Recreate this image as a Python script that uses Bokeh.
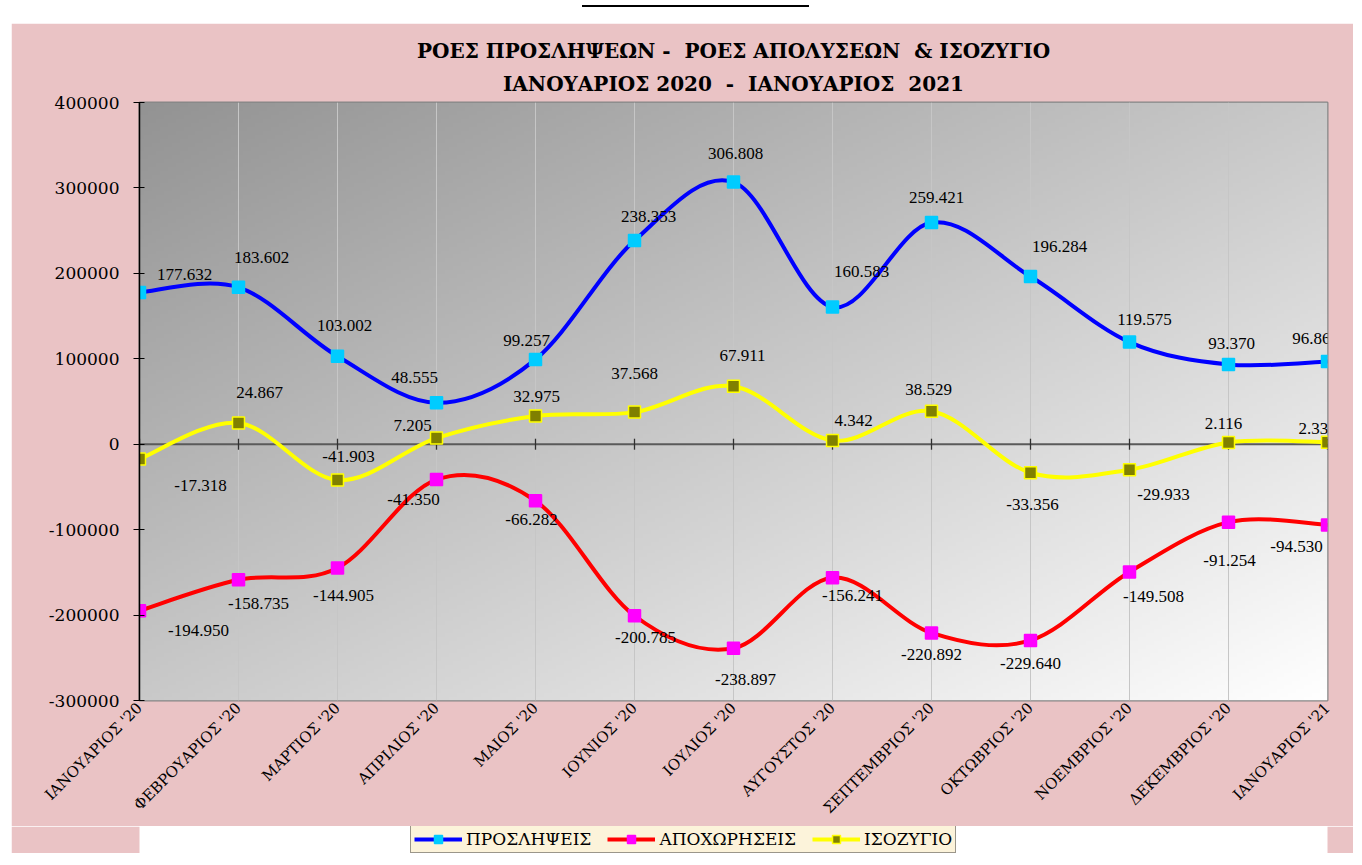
import numpy as np
from bokeh.plotting import figure
from bokeh.models import (Range1d, FixedTicker, ColumnDataSource, LabelSet, Legend,
                          LegendItem, Span, Title, Div, Spacer)
from bokeh.layouts import column, row
from bokeh.embed import file_html
from bokeh.resources import INLINE

# ---------------- data ----------------
months = ["ΙΑΝΟΥΑΡΙΟΣ '20", "ΦΕΒΡΟΥΑΡΙΟΣ '20", "ΜΑΡΤΙΟΣ '20", "ΑΠΡΙΛΙΟΣ '20",
          "ΜΑΙΟΣ '20", "ΙΟΥΝΙΟΣ '20", "ΙΟΥΛΙΟΣ '20", "ΑΥΓΟΥΣΤΟΣ '20",
          "ΣΕΠΤΕΜΒΡΙΟΣ '20", "ΟΚΤΩΒΡΙΟΣ '20", "ΝΟΕΜΒΡΙΟΣ '20", "ΔΕΚΕΜΒΡΙΟΣ '20",
          "ΙΑΝΟΥΑΡΙΟΣ '21"]
hires = [177632, 183602, 103002, 48555, 99257, 238353, 306808, 160583,
         259421, 196284, 119575, 93370, 96868]
exits = [-194950, -158735, -144905, -41350, -66282, -200785, -238897, -156241,
         -220892, -229640, -149508, -91254, -94530]
balance = [-17318, 24867, -41903, 7205, 32975, 37568, 67911, 4342,
           38529, -33356, -29933, 2116, 2338]
y_ticks = [-300000, -200000, -100000, 0, 100000, 200000, 300000, 400000]
series_names = ["ΠΡΟΣΛΗΨΕΙΣ", "ΑΠΟΧΩΡΗΣΕΙΣ", "ΙΣΟΖΥΓΙΟ"]
title_1 = "ΡΟΕΣ ΠΡΟΣΛΗΨΕΩΝ -\u00a0 ΡΟΕΣ ΑΠΟΛΥΣΕΩΝ\u00a0 & ΙΣΟΖΥΓΙΟ"
title_2 = "ΙΑΝΟΥΑΡΙΟΣ 2020\u00a0 -\u00a0 ΙΑΝΟΥΑΡΙΟΣ\u00a0 2021"

# label nudges in screen px (right / down), as the labels sit in the original
hires_dx = [45, 23, 7, -22, -9, 14, 2, 29, 5, 29, 15, 3, -12]
hires_dy = [-18, -30, -31, -25, -19, -24, -29, -36, -25, -30, -23, -21, -23]
exits_dx = [59, 20, 6, -23, -4, 11, 12, 20, 0, 0, 24, 1, -31]
exits_dy = [20, 24, 27, 20, 19, 22, 31, 18, 22, 23, 25, 38, 22]
bal_dx = [61, 21, 11, -24, 1, 0, 9, 21, -3, 2, 34, -5, -10]
bal_dy = [26, -30, -24, -13, -20, -39, -31, -20, -22, 32, 25, -19, -14]

PINK = "#eac3c5"
SERIF = "DejaVu Serif"
FIG_W = 1342

xpos = list(range(len(months)))
x_lo, x_hi = 0, len(months) - 1
y_lo, y_hi = -300000, 400000

p = figure(width=FIG_W, height=803,
           min_border_left=128, min_border_right=26,
           min_border_top=79, min_border_bottom=123,
           x_range=Range1d(x_lo, x_hi), y_range=Range1d(y_lo, y_hi),
           output_backend="svg", toolbar_location=None,
           background_fill_color="#c8c8c8", border_fill_color=PINK,
           outline_line_color="#858585", outline_line_width=2)

# gradient plot area (dark top-left -> white bottom-right)
H, W = 150, 300
u = np.linspace(0, 1, W)[None, :]
t_from_top = (1 - np.linspace(0, 1, H))[:, None]
g = np.clip(147 + 54 * (u + t_from_top), 0, 255).astype(np.uint8)
img = np.empty((H, W), dtype=np.uint32)
view = img.view(dtype=np.uint8).reshape((H, W, 4))
view[:, :, 0] = g
view[:, :, 1] = g
view[:, :, 2] = g
view[:, :, 3] = 255
p.image_rgba(image=[img], x=x_lo, y=y_lo, dw=x_hi - x_lo, dh=y_hi - y_lo, level="image")

# grids
p.xgrid.ticker = FixedTicker(ticks=xpos)
p.xgrid.grid_line_color = "#c6c6c6"
p.xgrid.grid_line_width = 1
p.ygrid.grid_line_color = None

# zero line with crossing ticks
p.add_layout(Span(location=0, dimension="width", line_color="#5a5a5a",
                  line_width=2, level="underlay"))
p.scatter(x=xpos, y=[0] * len(xpos), marker="dash", angle=np.pi / 2, size=11,
          line_color="#303030", line_width=1.3)

# axes
p.yaxis.ticker = FixedTicker(ticks=y_ticks)
p.yaxis.major_label_overrides = {v: str(v) for v in y_ticks}
p.yaxis.major_label_text_font = SERIF
p.yaxis.major_label_text_font_size = "17px"
p.yaxis.major_label_text_color = "#000000"
p.yaxis.axis_line_color = "#000000"
p.yaxis.axis_line_width = 1.5
p.yaxis.major_tick_in = 5
p.yaxis.major_tick_out = 6
p.yaxis.major_tick_line_color = "#000000"
p.yaxis.minor_tick_line_color = None
p.yaxis.major_label_standoff = 14

p.xaxis.ticker = FixedTicker(ticks=xpos)
p.xaxis.major_label_overrides = {i: m for i, m in enumerate(months)}
p.xaxis.major_label_orientation = np.pi / 4
p.xaxis.major_label_text_font = SERIF
p.xaxis.major_label_text_font_size = "15px"
p.xaxis.major_label_text_color = "#000000"
p.xaxis.axis_line_color = None
p.xaxis.major_tick_line_color = None
p.xaxis.minor_tick_line_color = None
p.xaxis.major_tick_out = 0
p.xaxis.major_tick_in = 0
p.xaxis.major_label_standoff = 5


def smooth_source(xs, ys):
    n = len(xs)
    d = dict(x0=[], y0=[], x1=[], y1=[], cx0=[], cy0=[], cx1=[], cy1=[])
    for i in range(n - 1):
        a = max(i - 1, 0)
        b = min(i + 2, n - 1)
        d["x0"].append(xs[i]); d["y0"].append(ys[i])
        d["x1"].append(xs[i + 1]); d["y1"].append(ys[i + 1])
        d["cx0"].append(xs[i] + (xs[i + 1] - xs[a]) / 6)
        d["cy0"].append(ys[i] + (ys[i + 1] - ys[a]) / 6)
        d["cx1"].append(xs[i + 1] - (xs[b] - xs[i]) / 6)
        d["cy1"].append(ys[i + 1] - (ys[b] - ys[i]) / 6)
    return ColumnDataSource(d)


def fmt(v):
    s = f"{abs(v):,}".replace(",", ".")
    return ("-" if v < 0 else "") + s


styles = [
    (hires, "#0000ff", "#00ccff", "#00ccff", hires_dx, hires_dy),
    (exits, "#ff0000", "#ff00ff", "#ff00ff", exits_dx, exits_dy),
    (balance, "#ffff00", "#808000", "#ffff00", bal_dx, bal_dy),
]

# strip under the chart that carries the legend (its view window holds no data)
pl = figure(width=FIG_W, height=27, x_range=Range1d(-3, -2), y_range=Range1d(0, 1),
            x_axis_location=None, y_axis_location=None, toolbar_location=None,
            output_backend="svg", background_fill_color=None, border_fill_color=PINK,
            outline_line_color=None, min_border=0)
pl.grid.visible = False

items = []
for name, (vals, lc, mfill, mline, dx, dy) in zip(series_names, styles):
    src = smooth_source(xpos, vals)
    p.bezier(x0="x0", y0="y0", x1="x1", y1="y1", cx0="cx0", cy0="cy0",
             cx1="cx1", cy1="cy1", source=src, line_color=lc, line_width=4)
    p.scatter(x=xpos, y=vals, marker="square", size=12, fill_color=mfill,
              line_color=mline, line_width=1.5)
    lsrc = ColumnDataSource(dict(x=xpos, y=vals, text=[fmt(v) for v in vals],
                                 xo=dx, yo=[-d for d in dy]))
    p.add_layout(LabelSet(x="x", y="y", text="text", source=lsrc, x_offset="xo",
                          y_offset="yo", text_align="center", text_baseline="middle",
                          text_font=SERIF, text_font_size="17px",
                          text_color="#000000"))
    # legend keys: same series and styles, drawn in the legend strip
    k_line = pl.line(x=xpos, y=vals, line_color=lc, line_width=4)
    k_pts = pl.scatter(x=xpos, y=vals, marker="square", size=10, fill_color=mfill,
                       line_color=mline, line_width=1.5)
    items.append(LegendItem(label=name, renderers=[k_line, k_pts]))

legend = Legend(items=items, orientation="horizontal", location=(271, 0),
                background_fill_color="#fcf3da", background_fill_alpha=1,
                border_line_color="#3a3a3a", border_line_width=1.5,
                label_text_font=SERIF, label_text_font_size="17px",
                label_text_color="#000000", glyph_width=48, glyph_height=20,
                spacing=16, padding=3, label_standoff=4, margin=0)
pl.add_layout(legend, "center")

# two-line title
p.add_layout(Title(text=title_2, align="center", text_font=SERIF,
                   text_font_size="20px", text_font_style="bold",
                   text_color="#000000", offset=7, standoff=14), "above")
p.add_layout(Title(text=title_1, align="center", text_font=SERIF,
                   text_font_size="20px", text_font_style="bold",
                   text_color="#000000", offset=7, standoff=0), "above")

top = Div(text='<div style="position:absolute;left:566px;top:0px;width:227px;'
               'border-top:2px solid #000;"></div>', width=FIG_W, height=13)
layout = row(Spacer(width=11), column(top, p, pl))

open("out.html", "w").write(file_html(layout, INLINE))
